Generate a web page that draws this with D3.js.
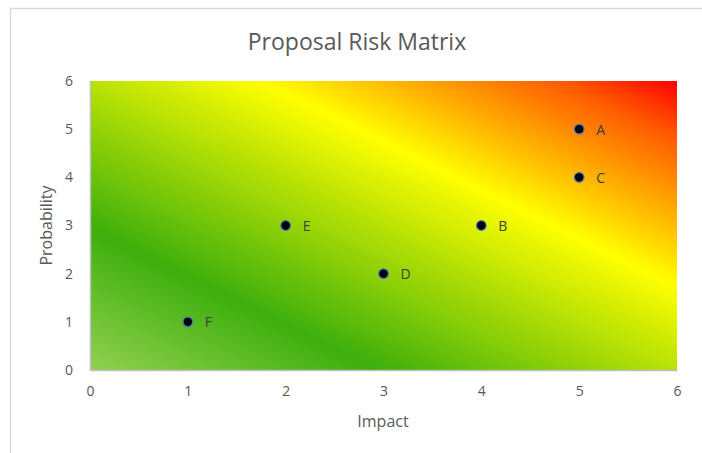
<!DOCTYPE html>
<html><head><meta charset="utf-8">
<script src="https://cdn.jsdelivr.net/npm/d3@7"></script>
<style>
body{margin:0;background:#fff;}
text{font-family:"Open Sans","Liberation Sans",sans-serif;}
</style></head>
<body>
<svg id="chart" width="702" height="453"></svg>
<script>
const labels = ["A","B","C","D","E","F"];
const impact = [5,4,5,3,2,1];
const probability = [5,3,4,2,3,1];
const xTicks = [0,1,2,3,4,5,6];
const yTicks = [0,1,2,3,4,5,6];
const gradStops = [
  {o:0, c:"#92d050"},
  {o:0.245, c:"#3daf0c"},
  {o:0.645, c:"#ffff00"},
  {o:0.79, c:"#ffa000"},
  {o:0.9, c:"#ff5a00"},
  {o:1, c:"#ff0000"}
];

const svg = d3.select("#chart");
const m = {l:90, r:677, t:81, b:370};
const x = d3.scaleLinear().domain([0,6]).range([m.l, m.r]);
const y = d3.scaleLinear().domain([0,6]).range([m.b, m.t]);

// outer border
svg.append("path").attr("d","M10.5,453 L10.5,8.5 L702,8.5")
  .attr("fill","none").attr("stroke","#d9d9d9").attr("stroke-width",1.5);

const defs = svg.append("defs");
const g = defs.append("linearGradient").attr("id","risk")
  .attr("x1",0).attr("y1",1).attr("x2",1).attr("y2",0);
g.selectAll("stop").data(gradStops).join("stop")
  .attr("offset",d=>d.o).attr("stop-color",d=>d.c);

svg.append("rect").attr("x",x(0)).attr("y",y(6))
  .attr("width",x(6)-x(0)).attr("height",y(0)-y(6))
  .attr("fill","url(#risk)");

// axes
const fmt = d3.format("d");
const xAxis = svg.append("g").attr("transform",`translate(0,${y(0)})`)
  .call(d3.axisBottom(x).tickValues(xTicks).tickFormat(fmt).tickSize(0).tickPadding(16));
const yAxis = svg.append("g").attr("transform",`translate(${x(0)},0)`)
  .call(d3.axisLeft(y).tickValues(yTicks).tickFormat(fmt).tickSize(0).tickPadding(17));
[xAxis,yAxis].forEach(a=>{
  a.select(".domain").attr("stroke","#bfbfbf").attr("stroke-width",1.5);
  a.selectAll("text").attr("fill","#595959").attr("font-size",14)
   .style("font-family",'"Open Sans","Liberation Sans",sans-serif');
});

// points
const pts = labels.map((l,i)=>({l, x:impact[i], y:probability[i]}));
svg.selectAll("circle.pt").data(pts).join("circle").attr("class","pt")
  .attr("cx",d=>x(d.x)).attr("cy",d=>y(d.y)).attr("r",4.8)
  .attr("fill","#000").attr("stroke","#4472c4").attr("stroke-width",1.2);
svg.selectAll("text.lbl").data(pts).join("text").attr("class","lbl")
  .attr("x",d=>x(d.x)+17).attr("y",d=>y(d.y)+5.5)
  .attr("fill","#404040").attr("font-size",14).text(d=>d.l);

// titles
svg.append("text").attr("x",357).attr("y",50).attr("text-anchor","middle")
  .attr("fill","#595959").attr("font-size",23).text("Proposal Risk Matrix");
svg.append("text").attr("x",383).attr("y",427).attr("text-anchor","middle")
  .attr("fill","#595959").attr("font-size",16).text("Impact");
svg.append("text").attr("transform",`translate(52,${(m.t+m.b)/2}) rotate(-90)`)
  .attr("text-anchor","middle")
  .attr("fill","#595959").attr("font-size",16).text("Probability");
</script>
</body></html>
